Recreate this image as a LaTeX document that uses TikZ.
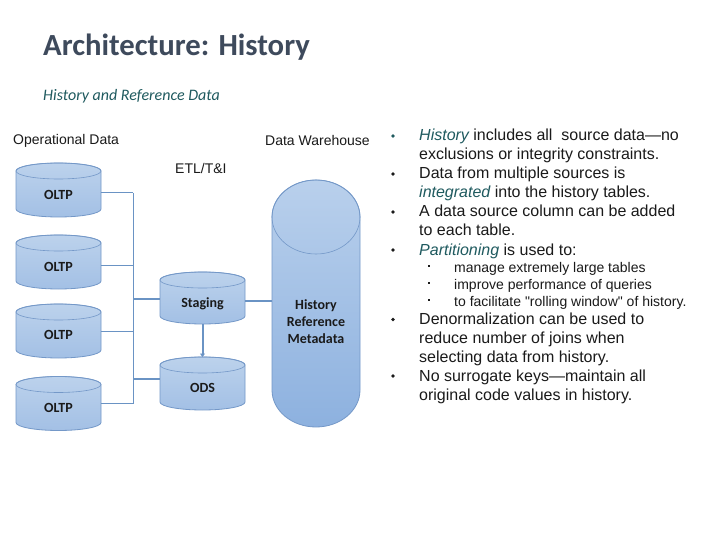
\documentclass[tikz,border=0pt]{standalone}
\usepackage{fontspec}
\setmainfont{Liberation Sans}
\newfontfamily\calibri{Carlito}
\usetikzlibrary{calc,arrows.meta}
\pgfdeclarelayer{background}
\pgfdeclarelayer{canvas}
\pgfsetlayers{canvas,background,main}
\definecolor{titlec}{HTML}{3E4A5C}
\definecolor{tealc}{HTML}{1F5A5F}
\definecolor{cylline}{HTML}{7498C8}
\definecolor{cyltop}{HTML}{BCD2EC}
\definecolor{cylbot}{HTML}{A3C0E5}
\definecolor{histtop}{HTML}{B9D0EC}
\definecolor{histbot}{HTML}{8DB1DF}
\definecolor{conn}{HTML}{6A93C4}
\definecolor{txt}{HTML}{1A1A1A}
\newcommand\dbcyl[5]{%
 \begin{pgfonlayer}{background}
 \path[draw=cylline, line width=0.8pt, top color=#4, bottom color=#5]
   ($(#1.north west)+(0,-#3)$) -- ($(#1.south west)+(0,#3)$)
   arc[start angle=180, end angle=360, x radius=#2, y radius=#3]
   -- ($(#1.north east)+(0,-#3)$)
   arc[start angle=0, end angle=180, x radius=#2, y radius=#3] -- cycle;
 \draw[cylline, line width=0.6pt] ($(#1.north)+(0,-#3)$) ellipse[x radius=#2, y radius=#3];
 \end{pgfonlayer}}
\begin{document}
\begin{tikzpicture}[x=1pt,y=1pt,
  dbbox/.style={inner sep=0, outer sep=0, minimum width=85, minimum height=54},
  dblabel/.style={inner sep=0, font=\calibri\bfseries\fontsize{14}{17}\selectfont, text=txt, align=center},
  lab/.style={inner sep=0, anchor=west, font=\fontsize{14}{16}\selectfont, text=txt},
  thinconn/.style={draw=conn, line width=1pt},
  thickconn/.style={draw=conn, line width=2pt},
  btext/.style={inner sep=0, anchor=base west, font=\fontsize{16}{19}\selectfont, text=txt},
  stext/.style={inner sep=0, anchor=base west, font=\fontsize{14}{17}\selectfont, text=txt}]
\useasboundingbox (0,0) rectangle (720,-540);
\begin{pgfonlayer}{canvas}
\fill[white] (0,0) rectangle (720,-540);
\end{pgfonlayer}

% titles
\node[anchor=base west, inner sep=0, font=\calibri\bfseries\fontsize{30.7}{31}\selectfont, text=titlec] (title) at (43,-56) {Architecture: History};
\node[anchor=base west, inner sep=0, font=\calibri\itshape\fontsize{16}{16}\selectfont, text=tealc] (subtitle) at (43,-101) {History and Reference Data};

% section labels
\node[lab] (opd) at (13,-141) {Operational Data};
\node[lab] (dwh) at (265,-140) {Data Warehouse};
\node[lab] (etl) at (175,-168) {ETL/T\&I};

% cylinders
\node[dbbox] (o1) at (58.5,-190) {};
\node[dbbox] (o2) at (58.5,-262) {};
\node[dbbox] (o3) at (58.5,-331) {};
\node[dbbox] (o4) at (58.5,-403.5) {};
\node[dbbox, minimum height=52] (st) at (202.5,-298) {};
\node[dbbox, minimum height=53] (ods) at (202.5,-383.5) {};
\node[dbbox, minimum width=88, minimum height=247] (hist) at (316,-303.5) {};
\dbcyl{o1}{42.5}{8}{cyltop}{cylbot}
\dbcyl{o2}{42.5}{8}{cyltop}{cylbot}
\dbcyl{o3}{42.5}{8}{cyltop}{cylbot}
\dbcyl{o4}{42.5}{8}{cyltop}{cylbot}
\dbcyl{st}{42.5}{8}{cyltop}{cylbot}
\dbcyl{ods}{42.5}{8}{cyltop}{cylbot}
\dbcyl{hist}{44}{37}{histtop}{histbot}

\node[dblabel] (o1t) at ($(o1.center)+(0,-5)$) {OLTP};
\node[dblabel] (o2t) at ($(o2.center)+(0,-5)$) {OLTP};
\node[dblabel] (o3t) at ($(o3.center)+(0,-4)$) {OLTP};
\node[dblabel] (o4t) at ($(o4.center)+(0,-4.5)$) {OLTP};
\node[dblabel] (stt) at ($(st.center)+(0,-6)$) {Staging};
\node[dblabel] (odst) at ($(ods.center)+(0,-4)$) {ODS};
\node[dblabel] (histt) at ($(hist.center)+(0,-18.5)$) {History\\Reference\\Metadata};

% connectors
\coordinate (bus) at (133,-300);
\coordinate (c1) at ($(o1.east)+(0,-3)$);
\coordinate (c2) at ($(o2.east)+(0,-3)$);
\draw[thinconn] (c1) -- (c1 -| bus);
\draw[thinconn] (c2) -- (c2 -| bus);
\draw[thinconn] (o3.east) -- (o3.east -| bus);
\draw[thinconn] (o4.east) -- (o4.east -| bus);
\draw[thinconn] (c1 -| bus) -- (o4.east -| bus);
\coordinate (stin) at ($(st.west)+(0,-1)$);
\coordinate (odsin) at ($(ods.west)+(0,4.5)$);
\draw[thickconn] (stin -| bus) -- (stin);
\draw[thickconn] (odsin -| bus) -- (odsin);
\draw[thickconn, -{Triangle[length=3.5pt,width=5pt]}] (st.south) -- (ods.north);
\coordinate (stout) at ($(st.east)+(0,-3)$);
\draw[thickconn] (stout) -- (stout -| hist.west);

% bullets
\foreach \yb/\c in {141/tealc,179/txt,217/txt,255/txt,324.5/txt,381/txt}
  \fill[\c] (393,-\yb+5) circle[radius=1.8];
\foreach \yb in {272.5,289.5,306.5}
  \fill[txt] (427.7,-\yb+5.2) rectangle ++(2.6,2.6);

\node[btext] (b1a) at (419,-141) {\textit{\textcolor{tealc}{History}} includes all\ \ source data---no};
\node[btext] (b1b) at (419,-160) {exclusions or integrity constraints.};
\node[btext] (b2a) at (419,-179) {Data from multiple sources is};
\node[btext] (b2b) at (419,-198) {\textit{\textcolor{tealc}{integrated}} into the history tables.};
\node[btext] (b3a) at (419,-217) {A data source column can be added};
\node[btext] (b3b) at (419,-236) {to each table.};
\node[btext] (b4a) at (419,-255) {\textit{\textcolor{tealc}{Partitioning}} is used to:};
\node[stext] (s1) at (454,-272.5) {manage extremely large tables};
\node[stext] (s2) at (454,-289.5) {improve performance of queries};
\node[stext] (s3) at (454,-306.5) {to facilitate \textquotedbl rolling window\textquotedbl\ of history.};
\node[btext] (b5a) at (419,-324.5) {Denormalization can be used to};
\node[btext] (b5b) at (419,-343.5) {reduce number of joins when};
\node[btext] (b5c) at (419,-362.5) {selecting data from history.};
\node[btext] (b6a) at (419,-381) {No surrogate keys---maintain all};
\node[btext] (b6b) at (419,-400) {original code values in history.};
\end{tikzpicture}
\end{document}
